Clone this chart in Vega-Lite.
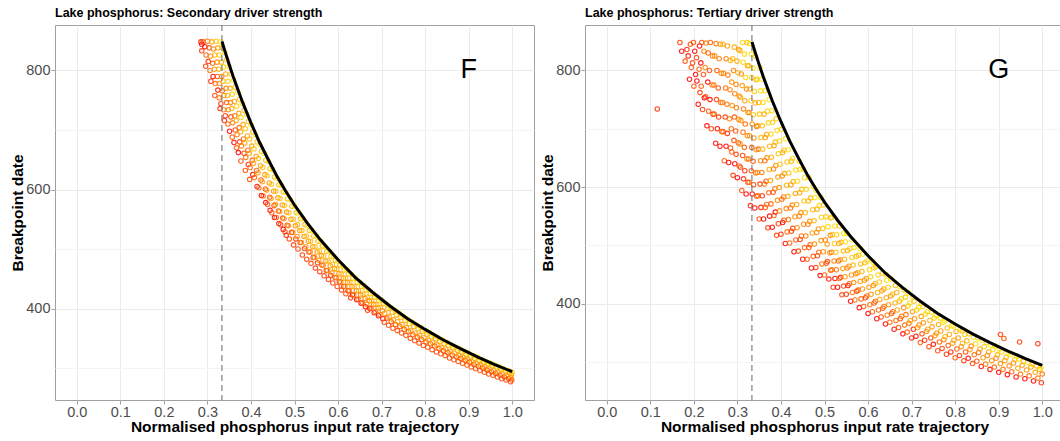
{
"$schema": "https://vega.github.io/schema/vega-lite/v6.json",
"background": "white",
"padding": {"left": 10, "top": 6, "right": 0, "bottom": 0},
"spacing": 5,
"config": {
  "font": "Liberation Sans",
  "view": {"stroke": "#A0A0A0", "strokeWidth": 1},
  "axis": {"domain": false, "tickColor": "#A0A0A0", "tickSize": 4, "labelFont": "Liberation Sans", "labelFontSize": 14.5, "labelColor": "#4D4D4D", "labelPadding": 1, "titleFont": "Liberation Sans", "titleFontSize": 15.5, "titleFontWeight": "bold", "titleColor": "#000000", "labelOverlap": false, "labelFlush": false},
  "title": {"anchor": "start", "frame": "group", "fontSize": 12.5, "fontWeight": "bold", "font": "Liberation Sans", "color": "#000000", "offset": 5}
},
"datasets": {
"curve": [{"x":0.3335,"y":849},{"x":0.34,"y":833},{"x":0.35,"y":810},{"x":0.36,"y":788},{"x":0.37,"y":768},{"x":0.38,"y":748},{"x":0.39,"y":730},{"x":0.4,"y":712},{"x":0.42,"y":679},{"x":0.44,"y":650},{"x":0.46,"y":622},{"x":0.48,"y":597},{"x":0.5,"y":574},{"x":0.53,"y":543},{"x":0.56,"y":515},{"x":0.6,"y":482},{"x":0.64,"y":452},{"x":0.68,"y":427},{"x":0.72,"y":404},{"x":0.76,"y":383},{"x":0.8,"y":365},{"x":0.84,"y":348},{"x":0.88,"y":333},{"x":0.92,"y":319},{"x":0.96,"y":306},{"x":1.0,"y":294}],
"F": [
{"x":0.285,"y":848,"s":0.95},{"x":0.287,"y":844,"s":1},
{"x":0.29,"y":848,"s":0.85},{"x":0.294,"y":840,"s":1},{"x":0.287,"y":833,"s":0.92},
{"x":0.3,"y":849,"s":0.67},{"x":0.304,"y":838,"s":0.85},{"x":0.297,"y":826,"s":0.76},{"x":0.302,"y":815,"s":0.97},{"x":0.296,"y":807,"s":0.9},
{"x":0.31,"y":848,"s":0.45},{"x":0.314,"y":836,"s":0.65},{"x":0.307,"y":824,"s":0.57},{"x":0.312,"y":812,"s":0.77},{"x":0.306,"y":800,"s":0.72},{"x":0.313,"y":790,"s":1},{"x":0.308,"y":782,"s":0.95},
{"x":0.32,"y":849,"s":0.25},{"x":0.324,"y":838,"s":0.45},{"x":0.317,"y":826,"s":0.34},{"x":0.322,"y":814,"s":0.55},{"x":0.316,"y":802,"s":0.5},{"x":0.323,"y":790,"s":0.82},{"x":0.318,"y":778,"s":0.75},{"x":0.324,"y":767,"s":0.98},{"x":0.317,"y":758,"s":0.88},
{"x":0.33,"y":848,"s":0.05},{"x":0.334,"y":838,"s":0.25},{"x":0.327,"y":826,"s":0.17},{"x":0.332,"y":814,"s":0.4},{"x":0.326,"y":802,"s":0.35},{"x":0.333,"y":790,"s":0.67},{"x":0.328,"y":778,"s":0.6},{"x":0.334,"y":766,"s":0.8},{"x":0.327,"y":754,"s":0.7},{"x":0.331,"y":744,"s":0.93},{"x":0.329,"y":736,"s":0.97},
{"x":0.34,"y":830,"s":0.02},{"x":0.344,"y":818,"s":0.22},{"x":0.337,"y":806,"s":0.12},{"x":0.342,"y":794,"s":0.35},{"x":0.336,"y":782,"s":0.3},{"x":0.343,"y":770,"s":0.62},{"x":0.338,"y":758,"s":0.55},{"x":0.344,"y":746,"s":0.78},{"x":0.337,"y":734,"s":0.68},{"x":0.341,"y":724,"s":0.93},{"x":0.339,"y":716,"s":0.97},
{"x":0.35,"y":806,"s":0.03},{"x":0.354,"y":794,"s":0.24},{"x":0.347,"y":782,"s":0.17},{"x":0.352,"y":770,"s":0.4},{"x":0.346,"y":758,"s":0.35},{"x":0.353,"y":746,"s":0.67},{"x":0.348,"y":734,"s":0.61},{"x":0.354,"y":722,"s":0.86},{"x":0.347,"y":710,"s":0.76},{"x":0.351,"y":698,"s":1},
{"x":0.36,"y":784,"s":0.04},{"x":0.364,"y":772,"s":0.25},{"x":0.357,"y":760,"s":0.18},{"x":0.362,"y":748,"s":0.42},{"x":0.356,"y":736,"s":0.37},{"x":0.363,"y":724,"s":0.7},{"x":0.358,"y":712,"s":0.63},{"x":0.364,"y":700,"s":0.88},{"x":0.357,"y":688,"s":0.78},{"x":0.361,"y":679,"s":1},
{"x":0.37,"y":764,"s":0.03},{"x":0.374,"y":752,"s":0.24},{"x":0.367,"y":740,"s":0.18},{"x":0.372,"y":728,"s":0.42},{"x":0.366,"y":716,"s":0.38},{"x":0.373,"y":704,"s":0.71},{"x":0.368,"y":692,"s":0.65},{"x":0.374,"y":680,"s":0.89},{"x":0.367,"y":670,"s":0.78},{"x":0.371,"y":662,"s":1},
{"x":0.38,"y":745,"s":0.03},{"x":0.384,"y":733,"s":0.25},{"x":0.377,"y":721,"s":0.18},{"x":0.382,"y":709,"s":0.43},{"x":0.376,"y":697,"s":0.4},{"x":0.383,"y":685,"s":0.74},{"x":0.378,"y":673,"s":0.68},{"x":0.384,"y":661,"s":0.93},{"x":0.377,"y":648,"s":0.85},
{"x":0.39,"y":726,"s":0.04},{"x":0.394,"y":714,"s":0.26},{"x":0.387,"y":702,"s":0.2},{"x":0.392,"y":690,"s":0.45},{"x":0.386,"y":678,"s":0.42},{"x":0.393,"y":666,"s":0.76},{"x":0.388,"y":654,"s":0.71},{"x":0.394,"y":642,"s":0.96},{"x":0.387,"y":632,"s":0.86},
{"x":0.4,"y":709,"s":0.03},{"x":0.404,"y":697,"s":0.26},{"x":0.397,"y":685,"s":0.2},{"x":0.402,"y":673,"s":0.45},{"x":0.396,"y":661,"s":0.42},{"x":0.403,"y":649,"s":0.77},{"x":0.398,"y":637,"s":0.72},{"x":0.404,"y":625,"s":0.98},{"x":0.397,"y":617,"s":0.86},
{"x":0.41,"y":692,"s":0.03},{"x":0.414,"y":680,"s":0.26},{"x":0.407,"y":668,"s":0.21},{"x":0.412,"y":656,"s":0.47},{"x":0.406,"y":644,"s":0.45},{"x":0.413,"y":632,"s":0.8},{"x":0.408,"y":620,"s":0.75},{"x":0.414,"y":605,"s":1},
{"x":0.42,"y":676,"s":0.03},{"x":0.424,"y":664,"s":0.26},{"x":0.417,"y":652,"s":0.22},{"x":0.422,"y":640,"s":0.48},{"x":0.416,"y":628,"s":0.46},{"x":0.423,"y":616,"s":0.82},{"x":0.418,"y":603,"s":0.78},{"x":0.424,"y":590,"s":1},
{"x":0.43,"y":661,"s":0.03},{"x":0.434,"y":649,"s":0.27},{"x":0.427,"y":637,"s":0.22},{"x":0.432,"y":625,"s":0.49},{"x":0.426,"y":613,"s":0.47},{"x":0.433,"y":601,"s":0.83},{"x":0.428,"y":589,"s":0.8},{"x":0.434,"y":578,"s":1},
{"x":0.44,"y":647,"s":0.03},{"x":0.444,"y":635,"s":0.27},{"x":0.437,"y":623,"s":0.23},{"x":0.442,"y":611,"s":0.49},{"x":0.436,"y":599,"s":0.48},{"x":0.443,"y":587,"s":0.84},{"x":0.438,"y":575,"s":0.81},{"x":0.444,"y":565,"s":1},
{"x":0.45,"y":633,"s":0.03},{"x":0.454,"y":621,"s":0.27},{"x":0.447,"y":609,"s":0.23},{"x":0.452,"y":597,"s":0.51},{"x":0.446,"y":585,"s":0.5},{"x":0.453,"y":573,"s":0.86},{"x":0.448,"y":561,"s":0.83},{"x":0.454,"y":553,"s":1},
{"x":0.46,"y":619,"s":0.04},{"x":0.464,"y":608,"s":0.28},{"x":0.457,"y":597,"s":0.23},{"x":0.462,"y":586,"s":0.5},{"x":0.456,"y":575,"s":0.48},{"x":0.463,"y":564,"s":0.84},{"x":0.458,"y":553,"s":0.8},{"x":0.464,"y":543,"s":1},
{"x":0.47,"y":607,"s":0.03},{"x":0.474,"y":596,"s":0.27},{"x":0.467,"y":585,"s":0.23},{"x":0.472,"y":574,"s":0.5},{"x":0.466,"y":563,"s":0.49},{"x":0.473,"y":552,"s":0.85},{"x":0.468,"y":541,"s":0.82},{"x":0.474,"y":533,"s":1},
{"x":0.48,"y":595,"s":0.03},{"x":0.484,"y":584,"s":0.27},{"x":0.477,"y":573,"s":0.24},{"x":0.482,"y":562,"s":0.52},{"x":0.476,"y":551,"s":0.51},{"x":0.483,"y":540,"s":0.88},{"x":0.478,"y":529,"s":0.85},{"x":0.481,"y":523,"s":0.97},
{"x":0.49,"y":583,"s":0.03},{"x":0.494,"y":572,"s":0.28},{"x":0.487,"y":561,"s":0.25},{"x":0.492,"y":550,"s":0.54},{"x":0.486,"y":539,"s":0.54},{"x":0.493,"y":528,"s":0.91},{"x":0.488,"y":517,"s":0.89},
{"x":0.5,"y":572,"s":0.03},{"x":0.504,"y":561,"s":0.29},{"x":0.497,"y":550,"s":0.26},{"x":0.502,"y":539,"s":0.55},{"x":0.496,"y":528,"s":0.56},{"x":0.503,"y":517,"s":0.93},{"x":0.498,"y":507,"s":0.91},
{"x":0.51,"y":561,"s":0.03},{"x":0.514,"y":551,"s":0.28},{"x":0.507,"y":541,"s":0.25},{"x":0.512,"y":531,"s":0.53},{"x":0.506,"y":521,"s":0.53},{"x":0.513,"y":511,"s":0.89},{"x":0.508,"y":500,"s":0.89},
{"x":0.52,"y":551,"s":0.03},{"x":0.524,"y":541,"s":0.28},{"x":0.517,"y":531,"s":0.26},{"x":0.522,"y":521,"s":0.54},{"x":0.516,"y":511,"s":0.54},{"x":0.523,"y":501,"s":0.92},{"x":0.518,"y":490,"s":0.91},
{"x":0.53,"y":540,"s":0.04},{"x":0.534,"y":531,"s":0.28},{"x":0.527,"y":522,"s":0.25},{"x":0.532,"y":513,"s":0.52},{"x":0.526,"y":504,"s":0.51},{"x":0.533,"y":495,"s":0.88},{"x":0.528,"y":483,"s":0.9},
{"x":0.54,"y":531,"s":0.03},{"x":0.544,"y":522,"s":0.28},{"x":0.537,"y":513,"s":0.25},{"x":0.542,"y":504,"s":0.53},{"x":0.536,"y":495,"s":0.53},{"x":0.543,"y":486,"s":0.9},{"x":0.538,"y":476,"s":0.9},
{"x":0.55,"y":522,"s":0.03},{"x":0.554,"y":513,"s":0.29},{"x":0.547,"y":504,"s":0.26},{"x":0.552,"y":495,"s":0.55},{"x":0.546,"y":486,"s":0.55},{"x":0.553,"y":477,"s":0.93},{"x":0.548,"y":468,"s":0.91},
{"x":0.56,"y":513,"s":0.03},{"x":0.564,"y":505,"s":0.28},{"x":0.557,"y":497,"s":0.24},{"x":0.562,"y":489,"s":0.52},{"x":0.556,"y":481,"s":0.51},{"x":0.563,"y":473,"s":0.88},{"x":0.558,"y":462,"s":0.91},
{"x":0.57,"y":504,"s":0.04},{"x":0.574,"y":496,"s":0.29},{"x":0.567,"y":488,"s":0.26},{"x":0.572,"y":480,"s":0.54},{"x":0.566,"y":472,"s":0.54},{"x":0.573,"y":464,"s":0.91},{"x":0.568,"y":455,"s":0.91},
{"x":0.58,"y":496,"s":0.03},{"x":0.584,"y":488,"s":0.29},{"x":0.577,"y":480,"s":0.27},{"x":0.582,"y":472,"s":0.55},{"x":0.576,"y":464,"s":0.56},{"x":0.583,"y":456,"s":0.94},{"x":0.578,"y":449,"s":0.91},
{"x":0.59,"y":488,"s":0.03},{"x":0.594,"y":481,"s":0.27},{"x":0.587,"y":474,"s":0.23},{"x":0.592,"y":467,"s":0.51},{"x":0.586,"y":460,"s":0.5},{"x":0.593,"y":452,"s":0.88},{"x":0.588,"y":443,"s":0.9},
{"x":0.6,"y":480,"s":0.03},{"x":0.604,"y":473,"s":0.28},{"x":0.597,"y":466,"s":0.25},{"x":0.602,"y":459,"s":0.53},{"x":0.596,"y":452,"s":0.53},{"x":0.603,"y":445,"s":0.9},{"x":0.598,"y":437,"s":0.9},
{"x":0.61,"y":472,"s":0.04},{"x":0.614,"y":465,"s":0.3},{"x":0.607,"y":458,"s":0.28},{"x":0.612,"y":451,"s":0.56},{"x":0.606,"y":444,"s":0.57},{"x":0.613,"y":437,"s":0.94},{"x":0.608,"y":431,"s":0.91},
{"x":0.62,"y":465,"s":0.03},{"x":0.624,"y":458,"s":0.3},{"x":0.617,"y":451,"s":0.28},{"x":0.622,"y":444,"s":0.57},{"x":0.616,"y":437,"s":0.58},{"x":0.623,"y":430,"s":0.96},{"x":0.618,"y":425,"s":0.9},
{"x":0.63,"y":458,"s":0.03},{"x":0.634,"y":451,"s":0.3},{"x":0.627,"y":444,"s":0.29},{"x":0.632,"y":437,"s":0.59},{"x":0.626,"y":430,"s":0.6},{"x":0.633,"y":423,"s":1},{"x":0.629,"y":418,"s":0.95},
{"x":0.64,"y":451,"s":0.03},{"x":0.644,"y":444,"s":0.31},{"x":0.637,"y":437,"s":0.3},{"x":0.642,"y":430,"s":0.6},{"x":0.636,"y":423,"s":0.62},{"x":0.643,"y":415,"s":1},
{"x":0.65,"y":444,"s":0.04},{"x":0.654,"y":437,"s":0.32},{"x":0.647,"y":430,"s":0.32},{"x":0.652,"y":423,"s":0.62},{"x":0.646,"y":416,"s":0.65},{"x":0.653,"y":409,"s":1},
{"x":0.66,"y":438,"s":0.03},{"x":0.664,"y":431,"s":0.31},{"x":0.657,"y":424,"s":0.31},{"x":0.662,"y":417,"s":0.63},{"x":0.656,"y":410,"s":0.66},{"x":0.663,"y":403,"s":1},
{"x":0.67,"y":431,"s":0.04},{"x":0.674,"y":425,"s":0.3},{"x":0.667,"y":419,"s":0.28},{"x":0.672,"y":413,"s":0.58},{"x":0.666,"y":407,"s":0.59},{"x":0.673,"y":400,"s":1},{"x":0.668,"y":397,"s":0.93},
{"x":0.68,"y":425,"s":0.04},{"x":0.684,"y":419,"s":0.31},{"x":0.677,"y":413,"s":0.3},{"x":0.682,"y":407,"s":0.59},{"x":0.676,"y":401,"s":0.61},{"x":0.683,"y":393,"s":1},
{"x":0.69,"y":419,"s":0.05},{"x":0.694,"y":413,"s":0.32},{"x":0.687,"y":407,"s":0.31},{"x":0.692,"y":401,"s":0.61},{"x":0.686,"y":395,"s":0.63},{"x":0.693,"y":388,"s":1},
{"x":0.7,"y":414,"s":0.03},{"x":0.704,"y":408,"s":0.3},{"x":0.697,"y":402,"s":0.3},{"x":0.702,"y":396,"s":0.6},{"x":0.696,"y":390,"s":0.62},{"x":0.703,"y":383,"s":1},
{"x":0.71,"y":408,"s":0.04},{"x":0.714,"y":400,"s":0.37},{"x":0.707,"y":392,"s":0.43},{"x":0.712,"y":384,"s":0.8},{"x":0.706,"y":377,"s":0.86},
{"x":0.72,"y":402,"s":0.05},{"x":0.724,"y":394,"s":0.4},{"x":0.717,"y":386,"s":0.46},{"x":0.722,"y":378,"s":0.84},{"x":0.716,"y":372,"s":0.87},
{"x":0.73,"y":397,"s":0.04},{"x":0.734,"y":389,"s":0.39},{"x":0.727,"y":381,"s":0.46},{"x":0.732,"y":373,"s":0.83},{"x":0.726,"y":367,"s":0.87},
{"x":0.74,"y":392,"s":0.04},{"x":0.744,"y":385,"s":0.36},{"x":0.737,"y":378,"s":0.4},{"x":0.742,"y":370,"s":0.79},{"x":0.736,"y":363,"s":0.86},
{"x":0.75,"y":387,"s":0.04},{"x":0.754,"y":380,"s":0.37},{"x":0.747,"y":373,"s":0.42},{"x":0.752,"y":365,"s":0.81},{"x":0.746,"y":359,"s":0.85},
{"x":0.76,"y":382,"s":0.04},{"x":0.764,"y":375,"s":0.37},{"x":0.757,"y":368,"s":0.43},{"x":0.762,"y":361,"s":0.79},{"x":0.756,"y":355,"s":0.84},
{"x":0.77,"y":377,"s":0.05},{"x":0.774,"y":370,"s":0.39},{"x":0.767,"y":363,"s":0.44},{"x":0.772,"y":356,"s":0.81},{"x":0.766,"y":350,"s":0.87},
{"x":0.78,"y":372,"s":0.06},{"x":0.784,"y":366,"s":0.37},{"x":0.777,"y":359,"s":0.43},{"x":0.782,"y":352,"s":0.81},{"x":0.776,"y":346,"s":0.87},
{"x":0.79,"y":368,"s":0.04},{"x":0.794,"y":362,"s":0.35},{"x":0.787,"y":355,"s":0.42},{"x":0.792,"y":348,"s":0.8},{"x":0.786,"y":342,"s":0.87},
{"x":0.8,"y":363,"s":0.06},{"x":0.804,"y":357,"s":0.38},{"x":0.797,"y":351,"s":0.42},{"x":0.802,"y":344,"s":0.8},{"x":0.796,"y":338,"s":0.87},
{"x":0.81,"y":359,"s":0.05},{"x":0.814,"y":353,"s":0.37},{"x":0.807,"y":347,"s":0.42},{"x":0.812,"y":341,"s":0.77},{"x":0.806,"y":335,"s":0.85},
{"x":0.82,"y":355,"s":0.04},{"x":0.824,"y":349,"s":0.37},{"x":0.817,"y":343,"s":0.42},{"x":0.822,"y":337,"s":0.78},{"x":0.816,"y":331,"s":0.85},
{"x":0.83,"y":351,"s":0.04},{"x":0.834,"y":345,"s":0.37},{"x":0.827,"y":339,"s":0.43},{"x":0.832,"y":333,"s":0.79},{"x":0.826,"y":327,"s":0.86},
{"x":0.84,"y":347,"s":0.04},{"x":0.844,"y":341,"s":0.38},{"x":0.837,"y":335,"s":0.44},{"x":0.842,"y":329,"s":0.81},{"x":0.836,"y":324,"s":0.86},
{"x":0.85,"y":343,"s":0.04},{"x":0.854,"y":338,"s":0.35},{"x":0.847,"y":332,"s":0.41},{"x":0.852,"y":326,"s":0.79},{"x":0.846,"y":321,"s":0.84},
{"x":0.86,"y":339,"s":0.04},{"x":0.864,"y":334,"s":0.35},{"x":0.857,"y":328,"s":0.43},{"x":0.862,"y":322,"s":0.81},{"x":0.856,"y":317,"s":0.87},
{"x":0.87,"y":335,"s":0.06},{"x":0.874,"y":330,"s":0.37},{"x":0.867,"y":325,"s":0.4},{"x":0.872,"y":319,"s":0.79},{"x":0.866,"y":314,"s":0.85},
{"x":0.88,"y":332,"s":0.03},{"x":0.884,"y":327,"s":0.35},{"x":0.877,"y":321,"s":0.43},{"x":0.882,"y":316,"s":0.78},{"x":0.876,"y":311,"s":0.85},
{"x":0.89,"y":328,"s":0.04},{"x":0.894,"y":323,"s":0.37},{"x":0.887,"y":318,"s":0.41},{"x":0.892,"y":313,"s":0.76},{"x":0.886,"y":308,"s":0.84},
{"x":0.9,"y":325,"s":0.02},{"x":0.904,"y":320,"s":0.35},{"x":0.897,"y":315,"s":0.4},{"x":0.902,"y":310,"s":0.75},{"x":0.896,"y":305,"s":0.83},
{"x":0.91,"y":321,"s":0.05},{"x":0.914,"y":316,"s":0.38},{"x":0.907,"y":311,"s":0.43},{"x":0.912,"y":306,"s":0.79},{"x":0.906,"y":302,"s":0.83},
{"x":0.92,"y":318,"s":0.03},{"x":0.924,"y":313,"s":0.37},{"x":0.917,"y":308,"s":0.43},{"x":0.922,"y":303,"s":0.8},{"x":0.916,"y":299,"s":0.84},
{"x":0.93,"y":314,"s":0.06},{"x":0.934,"y":310,"s":0.36},{"x":0.927,"y":305,"s":0.42},{"x":0.932,"y":300,"s":0.79},{"x":0.926,"y":296,"s":0.84},
{"x":0.94,"y":311,"s":0.05},{"x":0.944,"y":307,"s":0.35},{"x":0.937,"y":302,"s":0.42},{"x":0.942,"y":297,"s":0.8},{"x":0.936,"y":293,"s":0.85},
{"x":0.95,"y":308,"s":0.05},{"x":0.954,"y":304,"s":0.36},{"x":0.947,"y":299,"s":0.42},{"x":0.952,"y":294,"s":0.81},{"x":0.946,"y":290,"s":0.87},
{"x":0.96,"y":305,"s":0.05},{"x":0.964,"y":301,"s":0.36},{"x":0.957,"y":296,"s":0.44},{"x":0.962,"y":291,"s":0.83},{"x":0.956,"y":288,"s":0.83},
{"x":0.97,"y":302,"s":0.04},{"x":0.974,"y":298,"s":0.36},{"x":0.967,"y":293,"s":0.44},{"x":0.972,"y":288,"s":0.84},{"x":0.966,"y":285,"s":0.85},
{"x":0.98,"y":299,"s":0.04},{"x":0.984,"y":295,"s":0.36},{"x":0.977,"y":290,"s":0.45},{"x":0.982,"y":285,"s":0.86},{"x":0.976,"y":282,"s":0.87},
{"x":0.99,"y":296,"s":0.05},{"x":0.994,"y":292,"s":0.38},{"x":0.987,"y":287,"s":0.47},{"x":0.992,"y":282,"s":0.88},{"x":0.986,"y":280,"s":0.84},
{"x":1.0,"y":293,"s":0.06},{"x":0.998,"y":289,"s":0.38},{"x":0.997,"y":284,"s":0.47},{"x":0.999,"y":280,"s":0.83},{"x":0.996,"y":277,"s":0.86}
],
"G": [
{"x":0.168,"y":848,"s":0.9},{"x":0.172,"y":833,"s":1},
{"x":0.18,"y":816,"s":0.85},{"x":0.184,"y":836,"s":0.96},
{"x":0.19,"y":785,"s":1},{"x":0.194,"y":805,"s":0.82},{"x":0.187,"y":825,"s":0.99},{"x":0.192,"y":845,"s":0.86},
{"x":0.2,"y":773,"s":0.83},{"x":0.204,"y":793,"s":1},{"x":0.197,"y":813,"s":0.87},{"x":0.202,"y":833,"s":1},{"x":0.199,"y":848,"s":0.85},
{"x":0.21,"y":742,"s":1},{"x":0.214,"y":762,"s":0.91},{"x":0.207,"y":782,"s":1},{"x":0.212,"y":802,"s":0.79},{"x":0.206,"y":822,"s":0.86},{"x":0.213,"y":842,"s":1},
{"x":0.22,"y":733,"s":0.93},{"x":0.224,"y":753,"s":1},{"x":0.217,"y":773,"s":0.8},{"x":0.222,"y":793,"s":0.87},{"x":0.216,"y":813,"s":1},{"x":0.223,"y":833,"s":0.6},{"x":0.218,"y":848,"s":0.85},
{"x":0.23,"y":705,"s":1},{"x":0.234,"y":730,"s":0.85},{"x":0.227,"y":755,"s":0.9},{"x":0.232,"y":780,"s":1},{"x":0.226,"y":805,"s":0.6},{"x":0.233,"y":830,"s":0.83},{"x":0.228,"y":847,"s":0.64},
{"x":0.24,"y":700,"s":0.87},{"x":0.244,"y":725,"s":0.92},{"x":0.237,"y":750,"s":1},{"x":0.242,"y":775,"s":0.62},{"x":0.236,"y":800,"s":0.85},{"x":0.243,"y":825,"s":0.63},{"x":0.238,"y":848,"s":0.78},
{"x":0.25,"y":675,"s":0.99},{"x":0.254,"y":700,"s":1},{"x":0.247,"y":725,"s":0.68},{"x":0.252,"y":750,"s":0.91},{"x":0.246,"y":775,"s":0.69},{"x":0.253,"y":800,"s":0.84},{"x":0.248,"y":825,"s":0.54},{"x":0.251,"y":846,"s":0.64},
{"x":0.26,"y":670,"s":1},{"x":0.264,"y":695,"s":0.71},{"x":0.257,"y":720,"s":0.93},{"x":0.262,"y":745,"s":0.71},{"x":0.256,"y":770,"s":0.85},{"x":0.263,"y":795,"s":0.55},{"x":0.258,"y":820,"s":0.64},{"x":0.261,"y":845,"s":0.52},
{"x":0.27,"y":645,"s":0.8},{"x":0.274,"y":670,"s":1},{"x":0.267,"y":695,"s":0.79},{"x":0.272,"y":720,"s":0.93},{"x":0.266,"y":745,"s":0.62},{"x":0.273,"y":770,"s":0.71},{"x":0.268,"y":795,"s":0.59},{"x":0.274,"y":820,"s":0.65},{"x":0.267,"y":845,"s":0.34},
{"x":0.28,"y":642,"s":1},{"x":0.284,"y":667,"s":0.82},{"x":0.277,"y":692,"s":0.95},{"x":0.282,"y":717,"s":0.65},{"x":0.276,"y":742,"s":0.73},{"x":0.283,"y":767,"s":0.6},{"x":0.278,"y":792,"s":0.67},{"x":0.284,"y":817,"s":0.35},{"x":0.277,"y":842,"s":0.48},
{"x":0.29,"y":620,"s":0.91},{"x":0.294,"y":640,"s":1},{"x":0.287,"y":660,"s":0.76},{"x":0.292,"y":680,"s":0.85},{"x":0.286,"y":700,"s":0.74},{"x":0.293,"y":720,"s":0.81},{"x":0.288,"y":740,"s":0.5},{"x":0.294,"y":760,"s":0.65},{"x":0.287,"y":780,"s":0.49},{"x":0.291,"y":800,"s":0.63},{"x":0.289,"y":820,"s":0.33},{"x":0.293,"y":840,"s":0.37},
{"x":0.3,"y":616,"s":1},{"x":0.304,"y":636,"s":0.79},{"x":0.297,"y":656,"s":0.88},{"x":0.302,"y":676,"s":0.76},{"x":0.296,"y":696,"s":0.83},{"x":0.303,"y":716,"s":0.52},{"x":0.298,"y":736,"s":0.66},{"x":0.304,"y":756,"s":0.5},{"x":0.297,"y":776,"s":0.64},{"x":0.301,"y":796,"s":0.33},{"x":0.299,"y":816,"s":0.37},{"x":0.303,"y":836,"s":0.51},
{"x":0.31,"y":594,"s":0.87},{"x":0.314,"y":614,"s":0.96},{"x":0.307,"y":634,"s":0.84},{"x":0.312,"y":654,"s":0.9},{"x":0.306,"y":674,"s":0.59},{"x":0.313,"y":694,"s":0.73},{"x":0.308,"y":714,"s":0.57},{"x":0.314,"y":734,"s":0.7},{"x":0.307,"y":754,"s":0.39},{"x":0.311,"y":774,"s":0.43},{"x":0.309,"y":794,"s":0.57},{"x":0.313,"y":814,"s":0.1},{"x":0.306,"y":834,"s":0.32},{"x":0.312,"y":848,"s":0.12},
{"x":0.32,"y":588,"s":1},{"x":0.324,"y":608,"s":0.87},{"x":0.317,"y":628,"s":0.94},{"x":0.322,"y":648,"s":0.62},{"x":0.316,"y":668,"s":0.76},{"x":0.323,"y":688,"s":0.59},{"x":0.318,"y":708,"s":0.73},{"x":0.324,"y":728,"s":0.41},{"x":0.317,"y":748,"s":0.44},{"x":0.321,"y":768,"s":0.58},{"x":0.319,"y":788,"s":0.11},{"x":0.323,"y":808,"s":0.33},{"x":0.316,"y":828,"s":0.1},{"x":0.322,"y":848,"s":0.24},
{"x":0.33,"y":568,"s":0.96},{"x":0.334,"y":588,"s":1},{"x":0.327,"y":608,"s":0.71},{"x":0.332,"y":628,"s":0.84},{"x":0.326,"y":648,"s":0.67},{"x":0.333,"y":668,"s":0.8},{"x":0.328,"y":688,"s":0.48},{"x":0.334,"y":708,"s":0.51},{"x":0.327,"y":728,"s":0.64},{"x":0.331,"y":748,"s":0.18},{"x":0.329,"y":768,"s":0.39},{"x":0.333,"y":788,"s":0.16},{"x":0.326,"y":808,"s":0.29},{"x":0.332,"y":828,"s":0},{"x":0.328,"y":846,"s":0.06},
{"x":0.34,"y":564,"s":1},{"x":0.344,"y":584,"s":0.74},{"x":0.337,"y":604,"s":0.87},{"x":0.342,"y":624,"s":0.7},{"x":0.336,"y":644,"s":0.83},{"x":0.343,"y":664,"s":0.51},{"x":0.338,"y":684,"s":0.53},{"x":0.344,"y":704,"s":0.66},{"x":0.337,"y":724,"s":0.19},{"x":0.341,"y":744,"s":0.4},{"x":0.339,"y":764,"s":0.17},{"x":0.343,"y":784,"s":0.3},{"x":0.336,"y":804,"s":0},{"x":0.342,"y":824,"s":0.06},
{"x":0.35,"y":545,"s":0.84},{"x":0.354,"y":565,"s":0.97},{"x":0.347,"y":585,"s":0.79},{"x":0.352,"y":605,"s":0.92},{"x":0.346,"y":625,"s":0.59},{"x":0.353,"y":645,"s":0.62},{"x":0.348,"y":665,"s":0.74},{"x":0.354,"y":685,"s":0.27},{"x":0.347,"y":705,"s":0.47},{"x":0.351,"y":725,"s":0.24},{"x":0.349,"y":745,"s":0.36},{"x":0.353,"y":765,"s":0.05},{"x":0.346,"y":785,"s":0.12},{"x":0.352,"y":805,"s":0},
{"x":0.36,"y":545,"s":1},{"x":0.364,"y":565,"s":0.83},{"x":0.357,"y":585,"s":0.95},{"x":0.362,"y":605,"s":0.63},{"x":0.356,"y":625,"s":0.65},{"x":0.363,"y":645,"s":0.77},{"x":0.358,"y":665,"s":0.29},{"x":0.364,"y":685,"s":0.49},{"x":0.357,"y":705,"s":0.25},{"x":0.361,"y":725,"s":0.37},{"x":0.359,"y":745,"s":0.05},{"x":0.363,"y":765,"s":0.12},{"x":0.356,"y":785,"s":0},
{"x":0.37,"y":530,"s":0.94},{"x":0.374,"y":550,"s":1},{"x":0.367,"y":570,"s":0.73},{"x":0.372,"y":590,"s":0.74},{"x":0.366,"y":610,"s":0.86},{"x":0.373,"y":630,"s":0.38},{"x":0.368,"y":650,"s":0.57},{"x":0.374,"y":670,"s":0.33},{"x":0.367,"y":690,"s":0.44},{"x":0.371,"y":710,"s":0.12},{"x":0.369,"y":730,"s":0.19},{"x":0.373,"y":750,"s":0.04},
{"x":0.38,"y":531,"s":1},{"x":0.384,"y":551,"s":0.77},{"x":0.377,"y":571,"s":0.78},{"x":0.382,"y":591,"s":0.89},{"x":0.376,"y":611,"s":0.41},{"x":0.383,"y":631,"s":0.6},{"x":0.378,"y":651,"s":0.35},{"x":0.384,"y":671,"s":0.46},{"x":0.377,"y":691,"s":0.13},{"x":0.381,"y":711,"s":0.19},{"x":0.379,"y":731,"s":0.05},
{"x":0.39,"y":517,"s":0.89},{"x":0.394,"y":537,"s":0.9},{"x":0.387,"y":557,"s":1},{"x":0.392,"y":577,"s":0.51},{"x":0.386,"y":597,"s":0.7},{"x":0.393,"y":617,"s":0.45},{"x":0.388,"y":637,"s":0.55},{"x":0.394,"y":657,"s":0.22},{"x":0.387,"y":677,"s":0.28},{"x":0.391,"y":697,"s":0.12},{"x":0.389,"y":717,"s":0.16},
{"x":0.4,"y":519,"s":0.95},{"x":0.404,"y":539,"s":1},{"x":0.397,"y":559,"s":0.56},{"x":0.402,"y":579,"s":0.74},{"x":0.396,"y":599,"s":0.48},{"x":0.403,"y":619,"s":0.58},{"x":0.398,"y":639,"s":0.24},{"x":0.404,"y":659,"s":0.29},{"x":0.397,"y":679,"s":0.13},{"x":0.401,"y":699,"s":0.17},
{"x":0.41,"y":503,"s":1},{"x":0.414,"y":523,"s":0.69},{"x":0.407,"y":543,"s":0.87},{"x":0.412,"y":563,"s":0.6},{"x":0.406,"y":583,"s":0.7},{"x":0.413,"y":603,"s":0.36},{"x":0.408,"y":623,"s":0.4},{"x":0.414,"y":643,"s":0.24},{"x":0.407,"y":663,"s":0.27},{"x":0.411,"y":683,"s":0},
{"x":0.42,"y":504,"s":0.75},{"x":0.424,"y":524,"s":0.92},{"x":0.417,"y":544,"s":0.65},{"x":0.422,"y":564,"s":0.74},{"x":0.416,"y":584,"s":0.4},{"x":0.423,"y":604,"s":0.44},{"x":0.418,"y":624,"s":0.27},{"x":0.424,"y":644,"s":0.29},{"x":0.417,"y":664,"s":0},
{"x":0.43,"y":489,"s":1},{"x":0.434,"y":509,"s":0.8},{"x":0.427,"y":529,"s":0.88},{"x":0.432,"y":549,"s":0.53},{"x":0.426,"y":569,"s":0.57},{"x":0.433,"y":589,"s":0.39},{"x":0.428,"y":609,"s":0.41},{"x":0.434,"y":629,"s":0.05},{"x":0.427,"y":649,"s":0.14},
{"x":0.44,"y":490,"s":0.86},{"x":0.444,"y":510,"s":0.94},{"x":0.437,"y":530,"s":0.59},{"x":0.442,"y":550,"s":0.62},{"x":0.436,"y":570,"s":0.44},{"x":0.443,"y":590,"s":0.45},{"x":0.438,"y":610,"s":0.08},{"x":0.444,"y":630,"s":0.17},{"x":0.442,"y":644,"s":0.03},
{"x":0.45,"y":476,"s":1},{"x":0.454,"y":496,"s":0.74},{"x":0.447,"y":516,"s":0.77},{"x":0.452,"y":536,"s":0.58},{"x":0.446,"y":556,"s":0.59},{"x":0.453,"y":576,"s":0.22},{"x":0.448,"y":596,"s":0.29},{"x":0.454,"y":616,"s":0.07},{"x":0.451,"y":631,"s":0.03},
{"x":0.46,"y":476,"s":0.82},{"x":0.464,"y":496,"s":0.84},{"x":0.457,"y":516,"s":0.65},{"x":0.462,"y":536,"s":0.65},{"x":0.456,"y":556,"s":0.27},{"x":0.463,"y":576,"s":0.35},{"x":0.458,"y":596,"s":0.12},{"x":0.464,"y":616,"s":0.19},
{"x":0.47,"y":461,"s":1},{"x":0.474,"y":481,"s":0.82},{"x":0.467,"y":501,"s":0.82},{"x":0.472,"y":521,"s":0.44},{"x":0.466,"y":541,"s":0.5},{"x":0.473,"y":561,"s":0.27},{"x":0.468,"y":581,"s":0.34},{"x":0.474,"y":601,"s":0},
{"x":0.48,"y":462,"s":0.9},{"x":0.484,"y":482,"s":0.89},{"x":0.477,"y":502,"s":0.51},{"x":0.482,"y":522,"s":0.57},{"x":0.476,"y":542,"s":0.33},{"x":0.483,"y":562,"s":0.39},{"x":0.478,"y":582,"s":0.01},{"x":0.481,"y":594,"s":0.02},
{"x":0.49,"y":448,"s":1},{"x":0.494,"y":468,"s":0.69},{"x":0.487,"y":488,"s":0.75},{"x":0.492,"y":508,"s":0.5},{"x":0.486,"y":528,"s":0.56},{"x":0.493,"y":548,"s":0.17},{"x":0.488,"y":568,"s":0.12},{"x":0.492,"y":582,"s":0.02},
{"x":0.5,"y":449,"s":0.78},{"x":0.504,"y":469,"s":0.83},{"x":0.497,"y":489,"s":0.58},{"x":0.502,"y":509,"s":0.63},{"x":0.496,"y":529,"s":0.23},{"x":0.503,"y":549,"s":0.19},{"x":0.498,"y":569,"s":0.24},
{"x":0.51,"y":442,"s":0.98},{"x":0.514,"y":457,"s":0.76},{"x":0.507,"y":472,"s":0.85},{"x":0.512,"y":487,"s":0.48},{"x":0.506,"y":502,"s":0.47},{"x":0.513,"y":517,"s":0.55},{"x":0.508,"y":532,"s":0.04},{"x":0.514,"y":547,"s":0.2},
{"x":0.52,"y":428,"s":0.93},{"x":0.524,"y":443,"s":1},{"x":0.517,"y":458,"s":0.65},{"x":0.522,"y":473,"s":0.63},{"x":0.516,"y":488,"s":0.71},{"x":0.523,"y":503,"s":0.19},{"x":0.518,"y":518,"s":0.35},{"x":0.524,"y":533,"s":0.08},{"x":0.517,"y":548,"s":0.16},
{"x":0.53,"y":428,"s":1},{"x":0.534,"y":443,"s":0.71},{"x":0.527,"y":458,"s":0.69},{"x":0.532,"y":473,"s":0.77},{"x":0.526,"y":488,"s":0.24},{"x":0.533,"y":503,"s":0.4},{"x":0.528,"y":518,"s":0.12},{"x":0.534,"y":533,"s":0.2},
{"x":0.54,"y":415,"s":0.88},{"x":0.544,"y":430,"s":0.86},{"x":0.537,"y":445,"s":0.93},{"x":0.542,"y":460,"s":0.41},{"x":0.536,"y":475,"s":0.56},{"x":0.543,"y":490,"s":0.28},{"x":0.538,"y":505,"s":0.35},{"x":0.544,"y":520,"s":0},
{"x":0.55,"y":416,"s":0.93},{"x":0.554,"y":431,"s":1},{"x":0.547,"y":446,"s":0.47},{"x":0.552,"y":461,"s":0.62},{"x":0.546,"y":476,"s":0.33},{"x":0.553,"y":491,"s":0.4},{"x":0.548,"y":506,"s":0.03},{"x":0.551,"y":520,"s":0.03},
{"x":0.56,"y":404,"s":1},{"x":0.564,"y":419,"s":0.65},{"x":0.557,"y":434,"s":0.8},{"x":0.562,"y":449,"s":0.5},{"x":0.556,"y":464,"s":0.57},{"x":0.563,"y":479,"s":0.2},{"x":0.558,"y":494,"s":0.21},{"x":0.564,"y":509,"s":0.02},
{"x":0.57,"y":406,"s":0.71},{"x":0.574,"y":421,"s":0.86},{"x":0.567,"y":436,"s":0.56},{"x":0.572,"y":451,"s":0.62},{"x":0.566,"y":466,"s":0.25},{"x":0.573,"y":481,"s":0.26},{"x":0.568,"y":496,"s":0.06},
{"x":0.58,"y":393,"s":1},{"x":0.584,"y":408,"s":0.76},{"x":0.577,"y":423,"s":0.82},{"x":0.582,"y":438,"s":0.44},{"x":0.576,"y":453,"s":0.45},{"x":0.583,"y":468,"s":0.25},{"x":0.578,"y":483,"s":0.24},{"x":0.582,"y":494,"s":0.03},
{"x":0.59,"y":395,"s":0.83},{"x":0.594,"y":410,"s":0.89},{"x":0.587,"y":425,"s":0.5},{"x":0.592,"y":440,"s":0.51},{"x":0.586,"y":455,"s":0.3},{"x":0.593,"y":470,"s":0.29},{"x":0.588,"y":485,"s":0},
{"x":0.6,"y":383,"s":1},{"x":0.604,"y":398,"s":0.71},{"x":0.597,"y":413,"s":0.71},{"x":0.602,"y":428,"s":0.5},{"x":0.596,"y":443,"s":0.48},{"x":0.603,"y":458,"s":0.09},{"x":0.598,"y":473,"s":0.14},
{"x":0.61,"y":386,"s":0.78},{"x":0.614,"y":401,"s":0.78},{"x":0.607,"y":416,"s":0.57},{"x":0.612,"y":431,"s":0.54},{"x":0.606,"y":446,"s":0.14},{"x":0.613,"y":461,"s":0.18},{"x":0.612,"y":471,"s":0.02},
{"x":0.62,"y":374,"s":1},{"x":0.624,"y":389,"s":0.79},{"x":0.617,"y":404,"s":0.76},{"x":0.622,"y":419,"s":0.35},{"x":0.616,"y":434,"s":0.39},{"x":0.623,"y":449,"s":0.14},{"x":0.618,"y":463,"s":0.19},
{"x":0.63,"y":377,"s":0.87},{"x":0.634,"y":392,"s":0.83},{"x":0.627,"y":407,"s":0.42},{"x":0.632,"y":422,"s":0.46},{"x":0.626,"y":437,"s":0.19},{"x":0.633,"y":452,"s":0.23},
{"x":0.64,"y":365,"s":1},{"x":0.644,"y":380,"s":0.66},{"x":0.637,"y":395,"s":0.69},{"x":0.642,"y":410,"s":0.42},{"x":0.636,"y":425,"s":0.46},{"x":0.643,"y":440,"s":0.04},{"x":0.641,"y":450,"s":0.02},
{"x":0.65,"y":368,"s":0.74},{"x":0.654,"y":383,"s":0.77},{"x":0.647,"y":398,"s":0.5},{"x":0.652,"y":413,"s":0.53},{"x":0.646,"y":428,"s":0.1},{"x":0.653,"y":442,"s":0.04},
{"x":0.66,"y":356,"s":1},{"x":0.664,"y":371,"s":0.75},{"x":0.657,"y":386,"s":0.78},{"x":0.662,"y":401,"s":0.35},{"x":0.656,"y":416,"s":0.27},{"x":0.663,"y":431,"s":0.3},
{"x":0.67,"y":359,"s":0.84},{"x":0.674,"y":374,"s":0.86},{"x":0.667,"y":389,"s":0.43},{"x":0.672,"y":404,"s":0.35},{"x":0.666,"y":419,"s":0.37},{"x":0.673,"y":429,"s":0},
{"x":0.68,"y":348,"s":1},{"x":0.684,"y":363,"s":0.69},{"x":0.677,"y":378,"s":0.61},{"x":0.682,"y":393,"s":0.62},{"x":0.676,"y":408,"s":0.03},{"x":0.683,"y":423,"s":0.13},
{"x":0.69,"y":351,"s":0.79},{"x":0.694,"y":366,"s":0.7},{"x":0.687,"y":381,"s":0.71},{"x":0.692,"y":396,"s":0.12},{"x":0.686,"y":411,"s":0.2},{"x":0.692,"y":418,"s":0.03},
{"x":0.7,"y":341,"s":0.97},{"x":0.704,"y":356,"s":0.97},{"x":0.697,"y":371,"s":0.38},{"x":0.702,"y":386,"s":0.46},{"x":0.696,"y":401,"s":0.1},{"x":0.703,"y":411,"s":0.17},
{"x":0.71,"y":344,"s":1},{"x":0.714,"y":359,"s":0.48},{"x":0.707,"y":374,"s":0.55},{"x":0.712,"y":389,"s":0.19},{"x":0.706,"y":404,"s":0.19},
{"x":0.72,"y":333,"s":0.77},{"x":0.724,"y":348,"s":0.85},{"x":0.717,"y":363,"s":0.48},{"x":0.722,"y":378,"s":0.47},{"x":0.716,"y":393,"s":0.03},{"x":0.722,"y":400,"s":0.05},
{"x":0.73,"y":337,"s":0.95},{"x":0.734,"y":352,"s":0.57},{"x":0.727,"y":367,"s":0.56},{"x":0.732,"y":382,"s":0.11},{"x":0.726,"y":395,"s":0.08},
{"x":0.74,"y":326,"s":0.89},{"x":0.744,"y":341,"s":0.87},{"x":0.737,"y":356,"s":0.42},{"x":0.742,"y":371,"s":0.35},{"x":0.736,"y":386,"s":0.07},
{"x":0.75,"y":330,"s":0.98},{"x":0.754,"y":345,"s":0.52},{"x":0.747,"y":360,"s":0.45},{"x":0.752,"y":375,"s":0.17},{"x":0.746,"y":385,"s":0.15},
{"x":0.76,"y":319,"s":0.85},{"x":0.764,"y":334,"s":0.78},{"x":0.757,"y":349,"s":0.49},{"x":0.762,"y":364,"s":0.39},{"x":0.756,"y":379,"s":0},
{"x":0.77,"y":323,"s":0.9},{"x":0.774,"y":338,"s":0.6},{"x":0.767,"y":353,"s":0.5},{"x":0.772,"y":368,"s":0.01},{"x":0.766,"y":375,"s":0.1},
{"x":0.78,"y":313,"s":0.94},{"x":0.784,"y":328,"s":0.83},{"x":0.777,"y":343,"s":0.34},{"x":0.782,"y":358,"s":0.3},{"x":0.776,"y":370,"s":0.01},
{"x":0.79,"y":317,"s":0.96},{"x":0.794,"y":332,"s":0.46},{"x":0.787,"y":347,"s":0.42},{"x":0.792,"y":362,"s":0.07},
{"x":0.8,"y":307,"s":0.83},{"x":0.804,"y":322,"s":0.77},{"x":0.797,"y":337,"s":0.42},{"x":0.802,"y":352,"s":0.37},{"x":0.796,"y":361,"s":0},
{"x":0.81,"y":311,"s":0.91},{"x":0.814,"y":326,"s":0.55},{"x":0.807,"y":341,"s":0.49},{"x":0.812,"y":356,"s":0},
{"x":0.82,"y":302,"s":0.92},{"x":0.824,"y":317,"s":0.85},{"x":0.817,"y":332,"s":0.33},{"x":0.822,"y":347,"s":0.16},{"x":0.816,"y":353,"s":0.26},
{"x":0.83,"y":306,"s":0.99},{"x":0.834,"y":321,"s":0.47},{"x":0.827,"y":336,"s":0.29},{"x":0.832,"y":348,"s":0.27},
{"x":0.84,"y":297,"s":0.86},{"x":0.844,"y":312,"s":0.68},{"x":0.837,"y":327,"s":0.6},{"x":0.842,"y":342,"s":0},
{"x":0.85,"y":301,"s":0.83},{"x":0.854,"y":316,"s":0.74},{"x":0.847,"y":331,"s":0.05},{"x":0.852,"y":341,"s":0.14},
{"x":0.86,"y":292,"s":1},{"x":0.864,"y":307,"s":0.46},{"x":0.857,"y":322,"s":0.44},{"x":0.862,"y":337,"s":0},
{"x":0.87,"y":296,"s":0.63},{"x":0.874,"y":311,"s":0.6},{"x":0.867,"y":326,"s":0.13},{"x":0.872,"y":333,"s":0.19},
{"x":0.88,"y":287,"s":1},{"x":0.884,"y":302,"s":0.57},{"x":0.877,"y":317,"s":0.45},{"x":0.882,"y":329,"s":0},
{"x":0.89,"y":291,"s":0.74},{"x":0.894,"y":306,"s":0.62},{"x":0.887,"y":321,"s":0.05},{"x":0.892,"y":327,"s":0.04},
{"x":0.9,"y":282,"s":1},{"x":0.904,"y":297,"s":0.52},{"x":0.897,"y":312,"s":0.33},{"x":0.902,"y":322,"s":0.05},
{"x":0.91,"y":287,"s":0.69},{"x":0.914,"y":302,"s":0.49},{"x":0.907,"y":317,"s":0.09},
{"x":0.92,"y":278,"s":1},{"x":0.924,"y":293,"s":0.58},{"x":0.917,"y":308,"s":0.35},{"x":0.922,"y":315,"s":0},
{"x":0.93,"y":283,"s":0.76},{"x":0.934,"y":298,"s":0.53},{"x":0.927,"y":312,"s":0},
{"x":0.94,"y":274,"s":1},{"x":0.944,"y":289,"s":0.44},{"x":0.937,"y":304,"s":0.26},{"x":0.942,"y":309,"s":0.03},
{"x":0.95,"y":279,"s":0.64},{"x":0.954,"y":294,"s":0.44},{"x":0.947,"y":305,"s":0.05},
{"x":0.96,"y":271,"s":1},{"x":0.964,"y":286,"s":0.49},{"x":0.957,"y":301,"s":0.28},
{"x":0.97,"y":276,"s":0.71},{"x":0.974,"y":291,"s":0.48},{"x":0.967,"y":299,"s":0.01},
{"x":0.98,"y":267,"s":1},{"x":0.984,"y":282,"s":0.42},{"x":0.977,"y":296,"s":0.11},
{"x":0.99,"y":272,"s":0.65},{"x":0.994,"y":287,"s":0.3},{"x":0.987,"y":293,"s":0.32},
{"x":0.998,"y":264,"s":0.94},{"x":1.0,"y":279,"s":0.67},{"x":0.997,"y":290,"s":0},
{"x":0.116,"y":734,"s":0.95},{"x":0.904,"y":347,"s":0.9},{"x":0.912,"y":340,"s":0.85},{"x":0.948,"y":334,"s":0.9},{"x":0.99,"y":331,"s":0.95}
]
},
"hconcat": [
{
  "width": 479, "height": 375,
  "title": {"text": "Lake phosphorus: Secondary driver strength"},
  "layer": [
    {"data": {"name": "F"},
     "mark": {"type": "point", "shape": "circle", "filled": false, "size": 20, "strokeWidth": 1.1, "opacity": 0.85},
     "encoding": {
       "x": {"field": "x", "type": "quantitative", "scale": {"domain": [-0.05, 1.05], "nice": false, "zero": false},
             "axis": {"values": [0,0.05,0.1,0.15,0.2,0.25,0.3,0.35,0.4,0.45,0.5,0.55,0.6,0.65,0.7,0.75,0.8,0.85,0.9,0.95,1], "format": ".1f",
                      "labelExpr": "abs(datum.value*10-round(datum.value*10))<0.001 ? datum.label : ''",
                      "tickOpacity": {"condition": {"test": "abs(datum.value*10-round(datum.value*10))<0.001", "value": 1}, "value": 0},
                      "gridColor": {"condition": {"test": "abs(datum.value*10-round(datum.value*10))<0.001", "value": "#EBEBEB"}, "value": "#F4F4F4"},
                      "title": "Normalised phosphorus input rate trajectory", "titlePadding": 1}},
       "y": {"field": "y", "type": "quantitative", "scale": {"domain": [246.4, 876.4], "nice": false, "zero": false},
             "axis": {"values": [300,400,500,600,700,800],
                      "labelExpr": "datum.value % 200 == 0 ? datum.label : ''",
                      "tickOpacity": {"condition": {"test": "datum.value % 200 == 0", "value": 1}, "value": 0},
                      "gridColor": {"condition": {"test": "datum.value % 200 == 0", "value": "#EBEBEB"}, "value": "#F4F4F4"},
                      "title": "Breakpoint date", "titlePadding": 0}},
       "color": {"field": "s", "type": "quantitative", "scale": {"domain": [0, 1], "range": ["#FFE600", "#FF0000"], "interpolate": "lab"}, "legend": null}
     }},
    {"data": {"values": [{"x": 0.3333}]},
     "mark": {"type": "rule", "color": "#808080", "strokeWidth": 1.2, "strokeDash": [6, 4]},
     "encoding": {"x": {"field": "x", "type": "quantitative"}}},
    {"data": {"name": "curve"},
     "mark": {"type": "line", "color": "#000000", "strokeWidth": 3},
     "encoding": {"x": {"field": "x", "type": "quantitative"}, "y": {"field": "y", "type": "quantitative"}}},
    {"data": {"values": [{"x": 0.9, "y": 800, "t": "F"}]},
     "mark": {"type": "text", "fontSize": 27, "color": "#000000", "baseline": "middle", "align": "center"},
     "encoding": {"x": {"field": "x", "type": "quantitative"}, "y": {"field": "y", "type": "quantitative"}, "text": {"field": "t"}}}
  ]
},
{
  "width": 479, "height": 375,
  "title": {"text": "Lake phosphorus: Tertiary driver strength"},
  "layer": [
    {"data": {"name": "G"},
     "mark": {"type": "point", "shape": "circle", "filled": false, "size": 20, "strokeWidth": 1.1, "opacity": 0.85},
     "encoding": {
       "x": {"field": "x", "type": "quantitative", "scale": {"domain": [-0.05, 1.05], "nice": false, "zero": false},
             "axis": {"values": [0,0.05,0.1,0.15,0.2,0.25,0.3,0.35,0.4,0.45,0.5,0.55,0.6,0.65,0.7,0.75,0.8,0.85,0.9,0.95,1], "format": ".1f",
                      "labelExpr": "abs(datum.value*10-round(datum.value*10))<0.001 ? datum.label : ''",
                      "tickOpacity": {"condition": {"test": "abs(datum.value*10-round(datum.value*10))<0.001", "value": 1}, "value": 0},
                      "gridColor": {"condition": {"test": "abs(datum.value*10-round(datum.value*10))<0.001", "value": "#EBEBEB"}, "value": "#F4F4F4"},
                      "title": "Normalised phosphorus input rate trajectory", "titlePadding": 1}},
       "y": {"field": "y", "type": "quantitative", "scale": {"domain": [234.5, 878], "nice": false, "zero": false},
             "axis": {"values": [300,400,500,600,700,800],
                      "labelExpr": "datum.value % 200 == 0 ? datum.label : ''",
                      "tickOpacity": {"condition": {"test": "datum.value % 200 == 0", "value": 1}, "value": 0},
                      "gridColor": {"condition": {"test": "datum.value % 200 == 0", "value": "#EBEBEB"}, "value": "#F4F4F4"},
                      "title": "Breakpoint date", "titlePadding": 0}},
       "color": {"field": "s", "type": "quantitative", "scale": {"domain": [0, 1], "range": ["#FFE600", "#FF0000"], "interpolate": "lab"}, "legend": null}
     }},
    {"data": {"values": [{"x": 0.3333}]},
     "mark": {"type": "rule", "color": "#808080", "strokeWidth": 1.2, "strokeDash": [6, 4]},
     "encoding": {"x": {"field": "x", "type": "quantitative"}}},
    {"data": {"name": "curve"},
     "mark": {"type": "line", "color": "#000000", "strokeWidth": 3},
     "encoding": {"x": {"field": "x", "type": "quantitative"}, "y": {"field": "y", "type": "quantitative"}}},
    {"data": {"values": [{"x": 0.9, "y": 800, "t": "G"}]},
     "mark": {"type": "text", "fontSize": 27, "color": "#000000", "baseline": "middle", "align": "center"},
     "encoding": {"x": {"field": "x", "type": "quantitative"}, "y": {"field": "y", "type": "quantitative"}, "text": {"field": "t"}}}
  ]
}
]
}
